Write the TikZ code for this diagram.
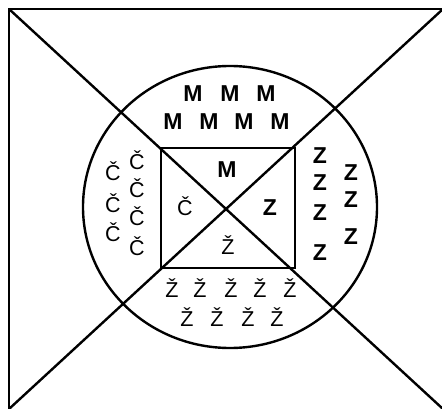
\documentclass[tikz,border=0pt]{standalone}
\usepackage{fontspec}
\setmainfont{Liberation Sans}
\usetikzlibrary{positioning, shapes.geometric}

\begin{document}
\begin{tikzpicture}[x=1pt, y=-1pt,
          line/.style={line width=2.4pt},
          heavy/.style={inner sep=0pt, font=\fontsize{23}{26}\selectfont\bfseries},
          plain/.style={inner sep=0pt, font=\fontsize{21.5}{26}\selectfont}]
        \useasboundingbox (0,0) rectangle (442,409);
        \clip (0,0) rectangle (442,409);
        % outer frame and its diagonals
        \coordinate (tl) at (9,9);
        \coordinate (tr) at (443,9);
        \coordinate (bl) at (9,409);
        \coordinate (br) at (443,409);
        \draw[line] (bl) -- (tl) -- (tr);
        \draw[line] (tl) -- (br);
        \draw[line] (bl) -- (tr);
        \node[line, draw, ellipse, minimum width=294pt, minimum height=282pt,
              inner sep=0pt] (ring) at (230,207) {};
        \node[line, draw, minimum width=134pt, minimum height=120pt,
              inner sep=0pt] (sq) at (228,208) {};
        % inner letters
        \node[heavy] (mc) at (227,170) {M};
        \node[plain] (cc) at (185,206) {Č};
        \node[heavy] (zc) at (270,208) {Z};
        \node[plain] (sc) at (228,245) {Ž};
        % top
        \node[heavy] (m1) at (193,94) {M};
        \node[heavy] (m2) at (230,94) {M};
        \node[heavy] (m3) at (266,94) {M};
        \node[heavy] (m4) at (173,122) {M};
        \node[heavy] (m5) at (209,122) {M};
        \node[heavy] (m6) at (244,122) {M};
        \node[heavy] (m7) at (280,122) {M};
        % left
        \node[plain] (c1) at (113,171) {Č};
        \node[plain] (c2) at (113,203) {Č};
        \node[plain] (c3) at (113,232) {Č};
        \node[plain] (c4) at (137,160) {Č};
        \node[plain] (c5) at (137,188) {Č};
        \node[plain] (c6) at (137,216) {Č};
        \node[plain] (c7) at (137,246) {Č};
        % right
        \node[heavy] (z1) at (320,156) {Z};
        \node[heavy] (z2) at (320,183) {Z};
        \node[heavy] (z3) at (320,213) {Z};
        \node[heavy] (z4) at (320,253) {Z};
        \node[heavy] (z5) at (351,173) {Z};
        \node[heavy] (z6) at (351,200) {Z};
        \node[heavy] (z7) at (351,237) {Z};
        % bottom
        \node[plain] (s1) at (172,288) {Ž};
        \node[plain] (s2) at (200,288) {Ž};
        \node[plain] (s3) at (231,288) {Ž};
        \node[plain] (s4) at (260,288) {Ž};
        \node[plain] (s5) at (290,288) {Ž};
        \node[plain] (s6) at (187,317) {Ž};
        \node[plain] (s7) at (217,317) {Ž};
        \node[plain] (s8) at (248,317) {Ž};
        \node[plain] (s9) at (277,317) {Ž};
      \end{tikzpicture}
\end{document}
